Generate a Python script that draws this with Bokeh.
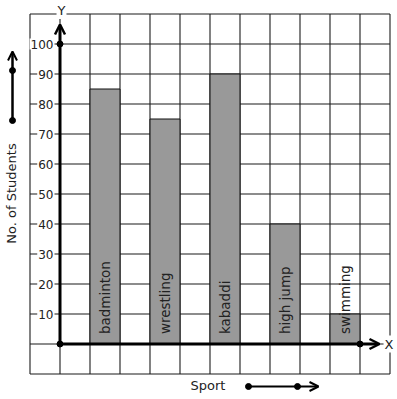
import math
from bokeh.plotting import figure
from bokeh.models import Range1d, Arrow, OpenHead, ColumnDataSource
from bokeh.core.properties import value
from bokeh.embed import file_html
from bokeh.resources import INLINE

# ---- data ----
sports = ["badminton", "wrestling", "kabaddi", "high jump", "swimming"]
students = [85, 75, 90, 40, 10]
y_ticks = [10, 20, 30, 40, 50, 60, 70, 80, 90, 100]
y_tick_labels = ["10", "20", "30", "40", "50", "60", "70", "80", "90", "100"]
x_title = "Sport"
y_title = "No. of Students"

# ---- layout (1 x-unit = 30px, 1 y-unit = 3px) ----
W, H = 397, 399
PX_X, PX_Y = 30.0, 3.0
ox, oy = 59.5, 343.5          # canvas pixel of the origin
x0 = -ox / PX_X
x1 = x0 + W / PX_X
y1 = oy / PX_Y
y0 = y1 - H / PX_Y

def cx(px):  # page x pixel -> data
    return (px - ox) / PX_X

def cy(py):  # page y pixel -> data
    return (oy - py) / PX_Y

FONT = value("DejaVu Sans")

p = figure(width=W, height=H, x_range=Range1d(x0, x1), y_range=Range1d(y0, y1),
           output_backend="svg", toolbar_location=None, min_border=0,
           x_axis_location=None, y_axis_location=None, outline_line_color=None,
           background_fill_color="white", border_fill_color="white")
p.grid.visible = False

# ---- square grid ----
gx = list(range(-1, 12))
gy = list(range(-10, 111, 10))
p.segment(x0=gx, y0=[-10] * len(gx), x1=gx, y1=[110] * len(gx), line_color="#1a1a1a", line_width=1.1)
p.segment(x0=[-1] * len(gy), y0=gy, x1=[11] * len(gy), y1=gy, line_color="#1a1a1a", line_width=1.1)

# ---- bars ----
centers = [2 * i + 1.5 for i in range(len(sports))]
src = ColumnDataSource(dict(x=centers, top=students, name=sports))
p.vbar(x="x", top="top", bottom=0, width=1, source=src, fill_color="#999999",
       line_color="#111111", line_width=1)
p.text(x="x", y=3.3, text="name", source=src, angle=math.pi / 2,
       text_align="left", text_baseline="middle", text_font=FONT,
       text_font_size="13.5px", text_color="#222222")

# ---- y tick labels ----
p.text(x=[cx(54)] * len(y_ticks), y=y_ticks, text=y_tick_labels, text_align="right",
       text_baseline="middle", text_font=FONT, text_font_size="12px", text_color="#222222",
       background_fill_color="white", padding=1)

# ---- axes with arrows ----
p.add_layout(Arrow(end=OpenHead(size=10, line_width=2.5, line_color="black"),
                   x_start=0, y_start=0, x_end=0, y_end=cy(24),
                   line_width=3, line_color="black"))
p.add_layout(Arrow(end=OpenHead(size=10, line_width=2.5, line_color="black"),
                   x_start=0, y_start=0, x_end=cx(379), y_end=0,
                   line_width=3, line_color="black"))
p.scatter(x=[0, 0, 10], y=[0, 100, 0], size=6, color="black")

p.text(x=[cx(61)], y=[cy(10)], text=["Y"], text_align="center", text_baseline="middle",
       text_font=FONT, text_font_size="13px", text_color="#222222",
       background_fill_color="white", padding=1)
p.text(x=[cx(388.5)], y=[0], text=["X"], text_align="center", text_baseline="middle",
       text_font=FONT, text_font_size="13px", text_color="#222222",
       background_fill_color="white", padding=1)

# ---- axis titles with guide arrows ----
p.text(x=[cx(190)], y=[cy(385)], text=[x_title], text_align="left", text_baseline="middle",
       text_font=FONT, text_font_size="13px", text_color="#222222")
p.add_layout(Arrow(end=OpenHead(size=9, line_width=2, line_color="black"),
                   x_start=cx(248), y_start=cy(386), x_end=cx(318), y_end=cy(386),
                   line_width=2, line_color="black"))
p.scatter(x=[cx(248), cx(297)], y=[cy(386), cy(386)], size=6, color="black")

p.text(x=[cx(11)], y=[cy(193)], text=[y_title], angle=math.pi / 2, text_align="center",
       text_baseline="middle", text_font=FONT, text_font_size="13px", text_color="#222222")
p.add_layout(Arrow(end=OpenHead(size=9, line_width=2, line_color="black"),
                   x_start=cx(12), y_start=cy(120), x_end=cx(12), y_end=cy(51),
                   line_width=2.5, line_color="black"))
p.scatter(x=[cx(12), cx(12)], y=[cy(120), cy(70)], size=6, color="black")

open("out.html", "w").write(file_html(p, INLINE))
